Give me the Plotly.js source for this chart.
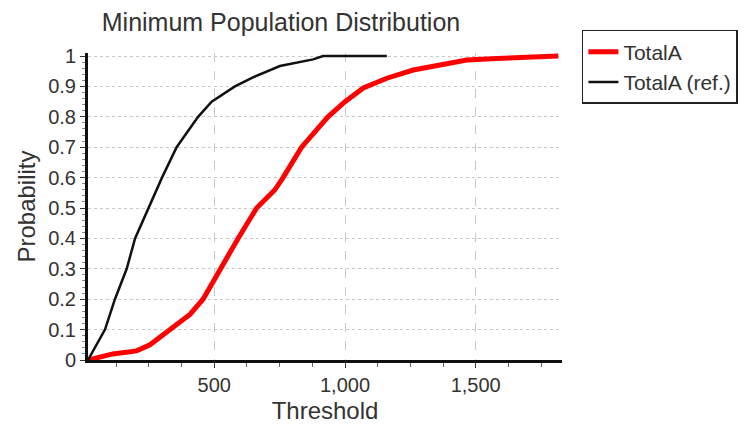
<!DOCTYPE html>
<html>
<head>
<meta charset="utf-8">
<script src="https://cdn.plot.ly/plotly-3.0.1.min.js"></script>
<style>html,body{margin:0;padding:0;background:#fff;}#chart{width:756px;height:432px;}</style>
</head>
<body>
<div id="chart"></div>
<script>
// Threshold values and cumulative probabilities
const seriesNames = ["TotalA", "TotalA (ref.)"];
const totalAX = [17, 112, 203, 254, 331, 407, 457, 522, 591, 662, 732, 763, 834, 935, 1000, 1070, 1160, 1261, 1363, 1466, 1580, 1708, 1816];
const totalAY = [0, 0.02, 0.03, 0.05, 0.1, 0.15, 0.2, 0.3, 0.4, 0.5, 0.56, 0.6, 0.7, 0.8, 0.85, 0.895, 0.927, 0.954, 0.97, 0.987, 0.992, 0.998, 1.0];
const refX = [17, 82, 120, 165, 197, 248, 300, 356, 438, 490, 579, 648, 751, 878, 916, 1160];
const refY = [0, 0.1, 0.2, 0.3, 0.4, 0.5, 0.6, 0.7, 0.8, 0.85, 0.9, 0.93, 0.967, 0.989, 1.0, 1.0];
const xTickVals = [500, 1000, 1500];
const yTickVals = [0, 0.1, 0.2, 0.3, 0.4, 0.5, 0.6, 0.7, 0.8, 0.9, 1];
const yTickText = ["0", "0.1", "0.2", "0.3", "0.4", "0.5", "0.6", "0.7", "0.8", "0.9", "1"];

const FONT = "Liberation Sans, Arial, sans-serif";

const traces = [
  {x: totalAX, y: totalAY, name: seriesNames[0], type: "scatter", mode: "lines",
   line: {color: "#ff0000", width: 5}},
  {x: refX, y: refY, name: seriesNames[1], type: "scatter", mode: "lines",
   line: {color: "#111111", width: 2.5}}
];

const layout = {
  width: 756, height: 432,
  paper_bgcolor: "#ffffff", plot_bgcolor: "#ffffff",
  margin: {l: 88, r: 194, t: 53, b: 72},
  font: {family: FONT, color: "#333333", size: 20},
  title: {text: "Minimum Population Distribution", x: 281/756, xref: "container", xanchor: "center",
          y: 0.948, yref: "container", yanchor: "middle", font: {family: FONT, size: 25, color: "#333333"}},
  showlegend: true,
  legend: {x: 1.042, y: 1.075, xanchor: "left", yanchor: "top", bgcolor: "#ffffff",
           bordercolor: "#222222", borderwidth: 1.5, font: {family: FONT, size: 21, color: "#333333"},
           tracegroupgap: 0},
  xaxis: {
    range: [17, 1830], tickvals: xTickVals, tickformat: ",", showline: true, linecolor: "#111111", linewidth: 3,
    ticks: "outside", ticklen: 5, tickcolor: "#333333", zeroline: false,
    showgrid: true, gridcolor: "#c8c8c8", griddash: "dash", gridwidth: 1,
    minor: {dtick: 125, tick0: 0, ticks: "outside", ticklen: 4, tickcolor: "#666666", showgrid: false},
    tickfont: {family: FONT, size: 20, color: "#333333"},
    title: {text: "Threshold", font: {family: FONT, size: 24, color: "#333333"}, standoff: 8}
  },
  yaxis: {
    range: [0, 1.01], tickvals: yTickVals, ticktext: yTickText, showline: true, linecolor: "#111111", linewidth: 3,
    ticks: "outside", ticklen: 5, tickcolor: "#333333", zeroline: false,
    showgrid: true, gridcolor: "#c8c8c8", griddash: "dot", gridwidth: 1,
    minor: {dtick: 0.02, tick0: 0, ticks: "outside", ticklen: 3, tickcolor: "#888888", showgrid: false},
    tickfont: {family: FONT, size: 20, color: "#333333"},
    title: {text: "Probability", font: {family: FONT, size: 24, color: "#333333"}, standoff: 6}
  }
};

Plotly.newPlot("chart", traces, layout, {displayModeBar: false, staticPlot: true});
</script>
</body>
</html>
